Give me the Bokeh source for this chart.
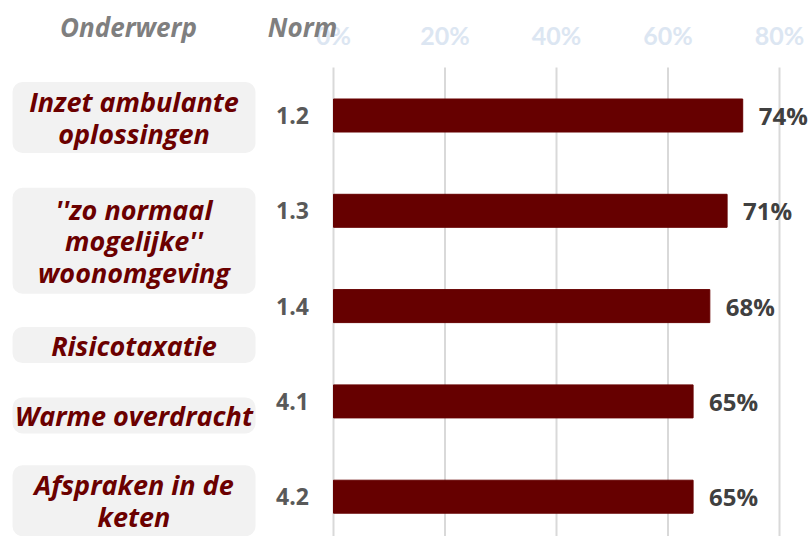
from bokeh.plotting import figure
from bokeh.models import ColumnDataSource, Range1d
from bokeh.core.properties import value
from bokeh.embed import file_html
from bokeh.resources import INLINE

# ---------------- data ----------------
subjects = ["Inzet ambulante\noplossingen",
            "''zo normaal\nmogelijke''\nwoonomgeving",
            "Risicotaxatie",
            "Warme overdracht",
            "Afspraken in de\nketen"]
norms = ["1.2", "1.3", "1.4", "4.1", "4.2"]
scores = [73.4, 70.6, 67.5, 64.5, 64.5]
score_labels = ["74%", "71%", "68%", "65%", "65%"]
tick_values = [0, 20, 40, 60, 80]
tick_labels = ["0%", "20%", "40%", "60%", "80%"]
headers = ["Onderwerp", "Norm"]

# ---------------- layout ----------------
W, H = 810, 536
PX_CAT = 95.3            # px per category
PX_PCT = 5.575           # px per percent
Y_TOP = -115 / PX_CAT
Y_BOT = Y_TOP + H / PX_CAT
X_LEFT = -333 / PX_PCT
X_RIGHT = X_LEFT + W / PX_PCT

def px_x(px):
    return X_LEFT + px / PX_PCT

def px_y(px):
    return Y_TOP + px / PX_CAT

box_left, box_right = px_x(12), px_x(255)
box_offsets_px = [2, 30, 39, 14, 4]
norm_x = px_x(292)
header_x = [px_x(128), px_x(302)]
header_y = px_y(26)
tick_y = px_y(34)
grid_top = px_y(67)

ys = list(range(len(subjects)))
nlines = [s.count("\n") + 1 for s in subjects]
box_c = [y + o / PX_CAT for y, o in zip(ys, box_offsets_px)]
box_h = [(35 * n + 1) / PX_CAT for n in nlines]

p = figure(width=W, height=H, output_backend="svg", toolbar_location=None,
           x_range=Range1d(X_LEFT, X_RIGHT), y_range=Range1d(Y_BOT, Y_TOP),
           min_border=0, min_border_left=0, min_border_right=0,
           min_border_top=0, min_border_bottom=0)
p.xaxis.visible = False
p.yaxis.visible = False
p.grid.visible = False
p.outline_line_color = None
p.background_fill_color = "white"
p.border_fill_color = "white"

# grid lines
p.segment(x0=tick_values, x1=tick_values, y0=[grid_top] * len(tick_values),
          y1=[Y_BOT] * len(tick_values), line_color="#d9d9d9", line_width=2)

# tick labels
p.text(x=tick_values, y=[tick_y] * len(tick_values), text=tick_labels,
       text_font=value("Lato"), text_font_style="bold", text_font_size="25px",
       text_color="#dce6f2", text_align="center", text_baseline="middle")

# headers
p.text(x=header_x, y=[header_y] * 2, text=headers,
       text_font=value("Open Sans"), text_font_style="bold italic", text_font_size="26px",
       text_color="#7f7f7f", text_align="center", text_baseline="middle")

# bars
src = ColumnDataSource(dict(y=ys, v=scores, lab=score_labels, norm=norms))
p.hbar(y="y", right="v", left=0, height=33 / PX_CAT, source=src,
       fill_color="#660000", line_color="#660000")
p.text(x="v", y="y", text="lab", source=src, x_offset=16,
       text_font=value("Open Sans"), text_font_style="bold", text_font_size="24px",
       text_color="#404040", text_align="left", text_baseline="middle")

# norm labels
p.text(x=[norm_x] * len(norms), y=ys, text=norms,
       text_font=value("Open Sans"), text_font_style="bold", text_font_size="23px",
       text_color="#595959", text_align="center", text_baseline="middle")

# subject boxes
bsrc = ColumnDataSource(dict(
    left=[box_left] * len(subjects), right=[box_right] * len(subjects),
    top=[c - h / 2 for c, h in zip(box_c, box_h)],
    bottom=[c + h / 2 for c, h in zip(box_c, box_h)],
    cx=[(box_left + box_right) / 2] * len(subjects), cy=box_c, txt=subjects))
p.quad(left="left", right="right", top="top", bottom="bottom", source=bsrc,
       fill_color="#f2f2f2", line_color=None, border_radius=10)
p.text(x="cx", y="cy", text="txt", source=bsrc,
       text_font=value("Open Sans"), text_font_style="bold italic", text_font_size="27px",
       text_color="#6b0000", text_align="center", text_baseline="middle",
       text_line_height=0.85)

open("out.html", "w").write(file_html(p, INLINE))
